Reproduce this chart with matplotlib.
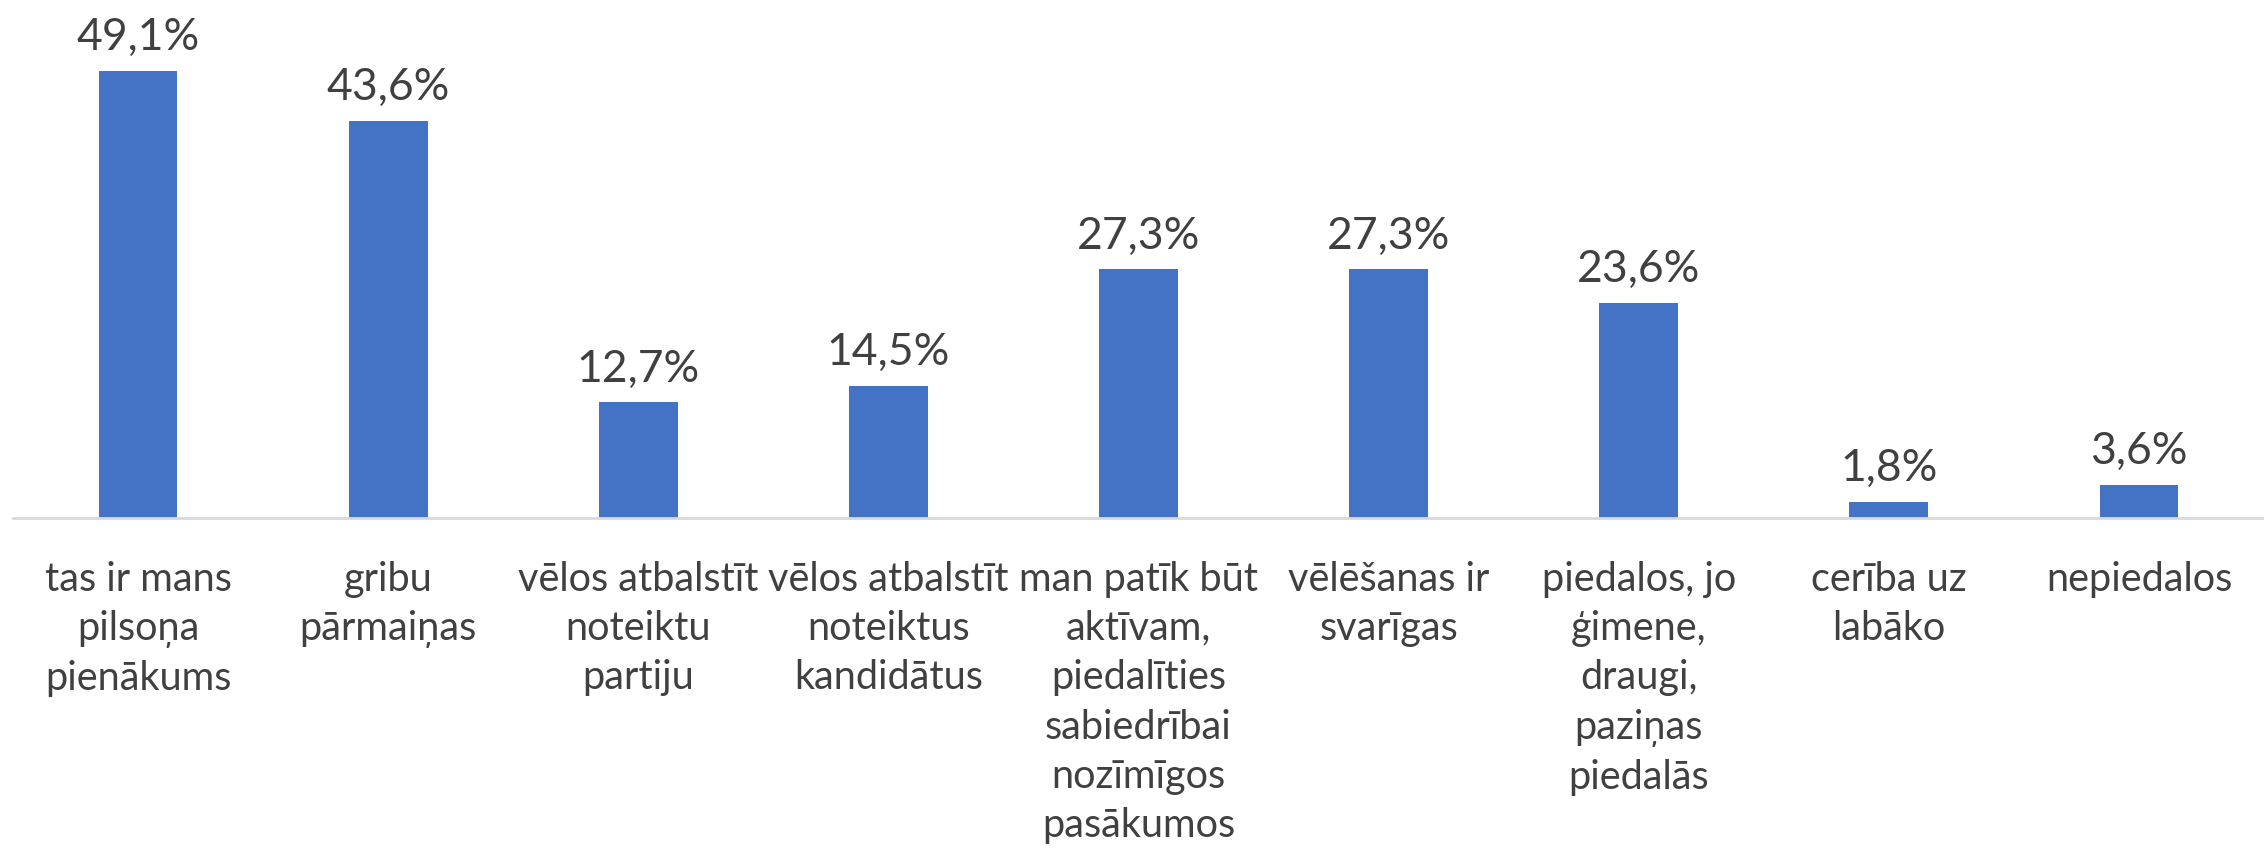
import matplotlib
matplotlib.use("Agg")
import matplotlib.pyplot as plt

# data
categories = [
    "tas ir mans\npilsoņa\npienākums",
    "gribu\npārmaiņas",
    "vēlos atbalstīt\nnoteiktu\npartiju",
    "vēlos atbalstīt\nnoteiktus\nkandidātus",
    "man patīk būt\naktīvam,\npiedalīties\nsabiedrībai\nnozīmīgos\npasākumos",
    "vēlēšanas ir\nsvarīgas",
    "piedalos, jo\nģimene,\ndraugi,\npaziņas\npiedalās",
    "cerība uz\nlabāko",
    "nepiedalos",
]
values = [49.1, 43.6, 12.7, 14.5, 27.3, 27.3, 23.6, 1.8, 3.6]
value_labels = ["49,1%", "43,6%", "12,7%", "14,5%", "27,3%", "27,3%", "23,6%", "1,8%", "3,6%"]

plt.rcParams['font.family'] = ['Lato', 'DejaVu Sans']
txt = '#404040'

fig = plt.figure(figsize=(22.64, 8.54), dpi=100)
ax = fig.add_axes([13/2264, 335/854, 1 - 13/2264, 519/854])

x = range(len(values))
ax.bar(x, values, width=0.315, color='#4472C4')
for i, v in enumerate(values):
    ax.annotate(value_labels[i], (i, v), xytext=(0, 10), textcoords='offset points',
                ha='center', va='bottom', fontsize=32, color=txt)

ax.set_xlim(-0.5, len(values) - 0.5)
ax.set_ylim(0, 57)
ax.set_xticks(list(x))
ax.set_xticklabels(categories, fontsize=28.5, color=txt, linespacing=1.41, va='top')
ax.tick_params(axis='x', length=0, pad=30)
ax.set_yticks([])
for s in ('top', 'right', 'left'):
    ax.spines[s].set_visible(False)
ax.spines['bottom'].set_color('#D9D9D9')
ax.spines['bottom'].set_linewidth(2)

fig.savefig('out.png', dpi=100)
